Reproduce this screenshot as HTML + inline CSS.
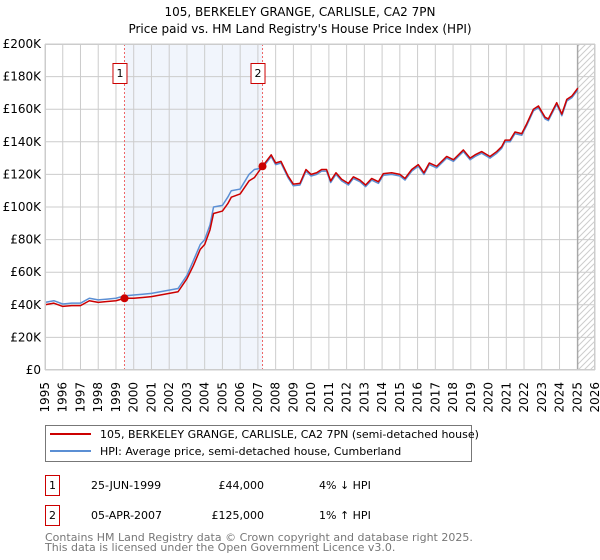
<!DOCTYPE html>
<html><head><meta charset="utf-8"><style>
body{margin:0;background:#fff;font-family:"DejaVu Sans","Liberation Sans",sans-serif;position:relative;width:600px;height:560px;overflow:hidden}
svg{display:block;position:absolute;left:0;top:0}
.xl{position:absolute;font-size:12px;line-height:14px;white-space:nowrap;writing-mode:vertical-rl;writing-mode:sideways-lr;height:31px;width:14px}
</style></head><body>
<svg id="chart" width="600" height="560" xmlns="http://www.w3.org/2000/svg">
<defs><pattern id="hatch" width="6" height="6" patternUnits="userSpaceOnUse"><path d="M0,6 L6,0 M-1,1 L1,-1 M5,7 L7,5" stroke="#cccccc" stroke-width="1"/></pattern></defs>
<text x="300" y="16" text-anchor="middle" font-size="12">105, BERKELEY GRANGE, CARLISLE, CA2 7PN</text>
<text x="300" y="33" text-anchor="middle" font-size="12">Price paid vs. HM Land Registry's House Price Index (HPI)</text>
<g id="plot"></g>
<g>
<rect x="45.5" y="425.5" width="426" height="36" fill="#fff" stroke="#777"/>
<line x1="50" y1="434" x2="91" y2="434" stroke="#cc0000" stroke-width="2"/>
<text x="100" y="438" font-size="11">105, BERKELEY GRANGE, CARLISLE, CA2 7PN (semi-detached house)</text>
<line x1="50" y1="451" x2="91" y2="451" stroke="#5b8fd4" stroke-width="2"/>
<text x="100" y="455" font-size="11">HPI: Average price, semi-detached house, Cumberland</text>
</g>
<g font-size="11">
<rect x="45.5" y="475.5" width="14" height="20" fill="#fff" stroke="#cc0000"/>
<text x="52.5" y="489" text-anchor="middle">1</text>
<text x="91" y="489">25-JUN-1999</text>
<text x="264" y="489" text-anchor="end">£44,000</text>
<text x="319" y="489">4% ↓ HPI</text>
<rect x="45.5" y="505.5" width="14" height="20" fill="#fff" stroke="#cc0000"/>
<text x="52.5" y="519" text-anchor="middle">2</text>
<text x="91" y="519">05-APR-2007</text>
<text x="264" y="519" text-anchor="end">£125,000</text>
<text x="319" y="519">1% ↑ HPI</text>
</g>
<text x="45" y="541" font-size="11" fill="#777">Contains HM Land Registry data © Crown copyright and database right 2025.</text>
<text x="45" y="551" font-size="11" fill="#777">This data is licensed under the Open Government Licence v3.0.</text>
</svg>
<div id="xlabels"></div>
<script>
const yTicks=[0,20,40,60,80,100,120,140,160,180,200];
const yTickLabels=["£0","£20K","£40K","£60K","£80K","£100K","£120K","£140K","£160K","£180K","£200K"];
const xYears=[1995,1996,1997,1998,1999,2000,2001,2002,2003,2004,2005,2006,2007,2008,2009,2010,2011,2012,2013,2014,2015,2016,2017,2018,2019,2020,2021,2022,2023,2024,2025,2026];
const propDates=[1995.0,1995.5,1996.0,1996.5,1997.0,1997.5,1998.0,1998.5,1999.0,1999.48,2000.0,2000.5,2001.0,2001.5,2002.0,2002.5,2003.0,2003.36,2003.75,2004.0,2004.3,2004.5,2005.0,2005.3,2005.5,2006.0,2006.5,2006.8,2007.26,2007.75,2008.0,2008.3,2008.7,2009.0,2009.37,2009.71,2010.0,2010.31,2010.59,2010.87,2011.1,2011.4,2011.72,2012.1,2012.38,2012.75,2013.07,2013.41,2013.79,2014.07,2014.54,2015.01,2015.29,2015.67,2016.04,2016.36,2016.66,2017.08,2017.64,2018.02,2018.58,2018.96,2019.24,2019.61,2020.08,2020.46,2020.74,2020.93,2021.21,2021.49,2021.87,2022.15,2022.53,2022.81,2023.19,2023.37,2023.84,2024.13,2024.41,2024.69,2024.97,2025.03];
const propValues=[40,41,39,39.5,39.5,42.5,41.5,42,42.5,44,44,44.5,45,46,47,48,56,64,74,77,86,96,97.5,102,106,108,116,118,125,132,127,128,119,114,114.5,123,120,121,123,123,116,121,117,114.5,118.5,116.5,113.5,117.5,115.5,120.5,121,120,117.5,123,126,121,127,125,131,129,135,130,132,134,131,134,137,141,141,146,145,151,160,162,155,154,164,157,166,168,172,173];
const hpiDates=propDates;
const hpiValues=[41.5,42.5,40.5,41,41,44,43,43.5,44,45.5,46,46.5,47,48,49,50,58,67,77,80,89,100,101,106,110,111,120,123,124,131,126,127,118,113,113.5,122,119,120,122,122,115,120,116,113.5,117.5,115.5,112.5,116.5,114.5,119.5,120,119,116.5,122,125,120,126,124,130,128,134,129,131,133,130,133,136,140,140,145,144,150,159,161,154,153,163,156,165,167,171,172];
const saleDates=[1999.48,2007.26];
const salePrices=[44,125];
const saleLabels=["1","2"];

const L=45,R=595,T=44,B=370,y0=1995,y1=2026,vmax=200;
const X=d=>L+(d-y0)/(y1-y0)*(R-L);
const Y=v=>B-v/vmax*(B-T);
const NS="http://www.w3.org/2000/svg";
const g=document.getElementById('plot');
function mk(t,a,parent){const e=document.createElementNS(NS,t);for(const k in a)e.setAttribute(k,a[k]);(parent||g).appendChild(e);return e;}

const bg=mk('rect',{x:L,y:T,width:R-L,height:B-T,fill:'#fff'});


const sh=mk('rect',{x:X(saleDates[0]),y:T,width:X(saleDates[1])-X(saleDates[0]),height:B-T,fill:'#eef2fb',opacity:0.8});


const ht=mk('rect',{x:X(2025.03),y:T,width:R-X(2025.03),height:B-T,fill:'url(#hatch)'});



const xl=document.getElementById('xlabels');
xYears.forEach(yr=>{
  const x=X(yr);
  const gl=mk('line',{x1:x,y1:T,x2:x,y2:B,stroke:'#cccccc','stroke-width':1});
  
  
  const d=document.createElement('div');
  d.className='xl';
  d.textContent=yr;
  d.style.left=(x-7)+'px';
  d.style.top=(B+12)+'px';
  
  
  xl.appendChild(d);
});
yTicks.forEach((v,i)=>{
  const y=Y(v);
  const gl=mk('line',{x1:L,y1:y,x2:R,y2:y,stroke:'#cccccc','stroke-width':1});
  
  
  const t=mk('text',{x:L-4,y:y+4,'font-size':12,'text-anchor':'end'});
  t.textContent=yTickLabels[i];
  
  
});
const fl=mk('line',{x1:X(2025.03),y1:T,x2:X(2025.03),y2:B,stroke:'#999','stroke-width':1});



saleDates.forEach((d,i)=>{
  const x=X(d);
  const vl=mk('line',{x1:x,y1:T,x2:x,y2:B,stroke:'#ee6666','stroke-width':1,'stroke-dasharray':'2,2'});
  
  
  const bx=mk('rect',{x:x-11.5,y:63.5,width:14,height:20,fill:'#fff',stroke:'#cc0000'});
  
  
  const t=mk('text',{x:x-4.5,y:77,'font-size':11,'text-anchor':'middle'});
  t.textContent=saleLabels[i];
  
  
});

const hp=mk('polyline',{points:hpiDates.map((d,i)=>X(d)+','+Y(hpiValues[i])).join(' '),fill:'none',stroke:'#5b8fd4','stroke-width':1.5,'stroke-linejoin':'round'});


const pp=mk('polyline',{points:propDates.map((d,i)=>X(d)+','+Y(propValues[i])).join(' '),fill:'none',stroke:'#cc0000','stroke-width':1.5,'stroke-linejoin':'round'});



saleDates.forEach((d,i)=>{
  const c=mk('circle',{cx:X(d),cy:Y(salePrices[i]),r:4,fill:'#cc0000'});
  
  
});
const fr=mk('rect',{x:L+0.5,y:T+0.5,width:R-L-1,height:B-T-1,fill:'none',stroke:'#cccccc'});


</script>
</body></html>
